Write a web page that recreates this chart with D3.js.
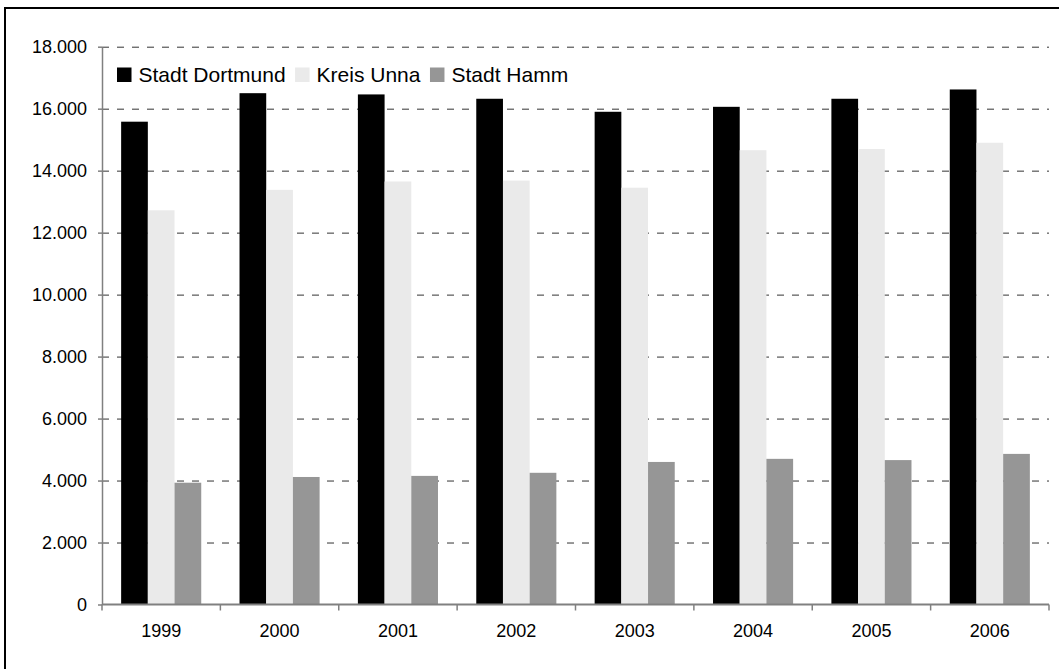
<!DOCTYPE html>
<html>
<head>
<meta charset="utf-8">
<script src="https://cdn.jsdelivr.net/npm/d3@7"></script>
<style>
  html, body { margin: 0; padding: 0; background: #fff; }
  svg { display: block; }
  text { font-family: "Liberation Sans", Arial, sans-serif; fill: #000; }
</style>
</head>
<body>
<svg id="chart" width="1059" height="669"></svg>
<script>
const years = ["1999", "2000", "2001", "2002", "2003", "2004", "2005", "2006"];
const seriesNames = ["Stadt Dortmund", "Kreis Unna", "Stadt Hamm"];
const dortmund = [15580, 16500, 16460, 16320, 15900, 16060, 16320, 16620];
const kreisUnna = [12720, 13380, 13650, 13680, 13450, 14660, 14700, 14900];
const hamm = [3930, 4115, 4150, 4250, 4600, 4700, 4660, 4860];
const yTicks = [0, 2000, 4000, 6000, 8000, 10000, 12000, 14000, 16000, 18000];
const colors = ["#000000", "#EAEAEA", "#969696"];

(function () {
const seriesValues = [dortmund, kreisUnna, hamm];
const svg = d3.select("#chart");

// outer border
svg.append("rect").attr("x", 5).attr("y", 8).attr("width", 1080).attr("height", 700)
  .attr("fill", "none").attr("stroke", "#000").attr("stroke-width", 2);

const pL = 102, pR = 1049, pT = 46.7, pB = 604.5;

const x0 = d3.scaleBand().domain(years).range([pL, pR]).paddingInner(0).paddingOuter(0);
const x1 = d3.scaleBand().domain(seriesNames).range([0, x0.bandwidth()]).paddingInner(0).paddingOuter(0.717);
const y = d3.scaleLinear().domain([0, 18000]).range([pB, pT]);

const de = d3.formatLocale({decimal: ",", thousands: ".", grouping: [3], currency: ["", " €"]});
const fmt = de.format(",d");

// gridlines
const grid = svg.append("g").attr("transform", `translate(${pL},0)`)
  .call(d3.axisLeft(y).tickValues(yTicks.filter(d => d > 0)).tickSize(-(pR - pL)).tickFormat(""));
grid.select(".domain").remove();
grid.selectAll("line").attr("stroke", "#333333").attr("stroke-width", 1).attr("stroke-dasharray", "7,8");

// bars
const groups = svg.append("g").selectAll("g").data(years).join("g")
  .attr("transform", d => `translate(${x0(d)},0)`);
groups.selectAll("rect")
  .data((yr, i) => seriesNames.map((s, k) => ({s, v: seriesValues[k][i], k})))
  .join("rect")
  .attr("x", d => x1(d.s))
  .attr("width", x1.bandwidth())
  .attr("y", d => y(d.v))
  .attr("height", d => y(0) - y(d.v))
  .attr("fill", d => colors[d.k]);

// y axis
const yAxis = svg.append("g").attr("transform", `translate(${pL},0)`)
  .call(d3.axisLeft(y).tickValues(yTicks).tickSize(4).tickSizeOuter(0).tickPadding(11).tickFormat(fmt));
yAxis.select(".domain").attr("stroke", "#808080").attr("stroke-width", 1.5);
yAxis.selectAll(".tick line").attr("stroke", "#808080").attr("stroke-width", 1.5);
yAxis.selectAll("text").style("font-size", "18px").attr("fill", "#000")
  .style("font-family", '"Liberation Sans", Arial, sans-serif');

// x axis labels
const xAxis = svg.append("g").attr("transform", `translate(0,${pB})`)
  .call(d3.axisBottom(x0).tickSize(0).tickPadding(20));
xAxis.select(".domain").remove();
xAxis.selectAll("text").style("font-size", "18px").attr("fill", "#000")
  .style("font-family", '"Liberation Sans", Arial, sans-serif');

// x axis line and boundary ticks
const xLine = svg.append("g");
xLine.append("line").attr("x1", pL).attr("x2", pR).attr("y1", pB).attr("y2", pB)
  .attr("stroke", "#808080").attr("stroke-width", 2);
const bounds = years.map(d => x0(d)).concat([x0.range()[1]]);
xLine.selectAll("line.tk").data(bounds).join("line").attr("class", "tk")
  .attr("x1", d => d).attr("x2", d => d).attr("y1", pB).attr("y2", pB + 6)
  .attr("stroke", "#808080").attr("stroke-width", 1.5);

// legend
const legend = svg.append("g").attr("transform", "translate(117,0)");
let lx = 0;
seriesNames.forEach((name, k) => {
  legend.append("rect").attr("x", lx).attr("y", 67.5).attr("width", 14.5).attr("height", 14.5)
    .attr("fill", colors[k]);
  const t = legend.append("text").attr("x", lx + 21.5).attr("y", 81.7)
    .style("font-size", "21px").text(name);
  lx += 21.5 + t.node().getComputedTextLength() + 9.5;
});
})();
</script>
</body>
</html>
